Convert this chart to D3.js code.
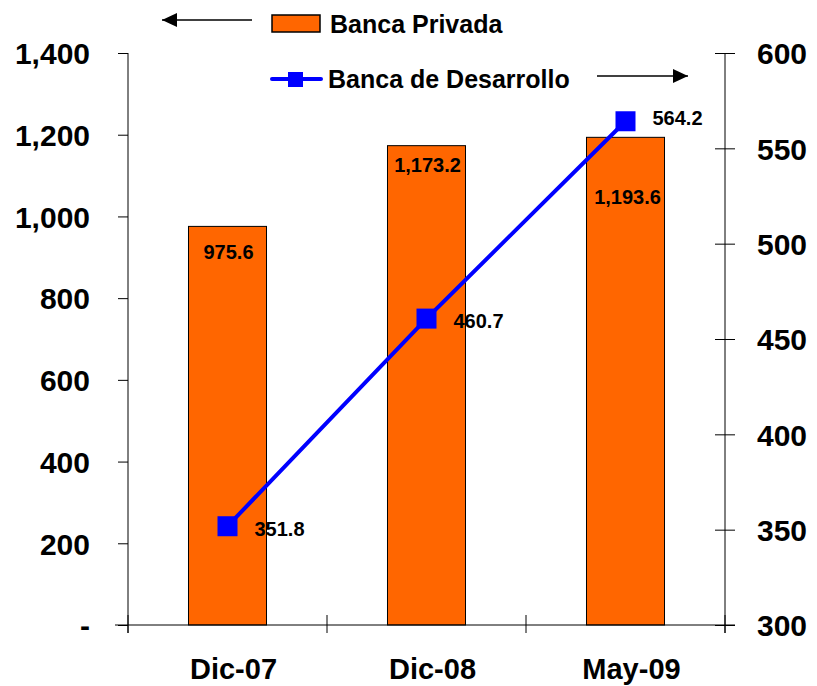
<!DOCTYPE html>
<html>
<head>
<meta charset="utf-8">
<script src="https://cdn.jsdelivr.net/npm/d3@7"></script>
<style>
  html, body { margin: 0; padding: 0; background: #fff; }
  svg { display: block; font-family: "Liberation Sans", Arial, sans-serif; font-weight: bold; }
</style>
</head>
<body>
<svg id="chart" width="817" height="686"></svg>
<script>
// Data
const categories = ["Dic-07", "Dic-08", "May-09"];
const privada = [975.6, 1173.2, 1193.6];          // left axis (bars)
const desarrollo = [351.8, 460.7, 564.2];         // right axis (line)
const leftTicks = [0, 200, 400, 600, 800, 1000, 1200, 1400];
const rightTicks = [300, 350, 400, 450, 500, 550, 600];
const seriesNames = ["Banca Privada", "Banca de Desarrollo"];

const svg = d3.select("#chart");
const plotLeft = 128, plotRight = 725, plotTop = 53, plotBottom = 625;

const x = d3.scaleBand().domain(categories).range([plotLeft, plotRight])
  .paddingInner(0.608).paddingOuter(0.304);
const step = x.step();
const yL = d3.scaleLinear().domain([0, 1400]).range([plotBottom, plotTop]);
const yR = d3.scaleLinear().domain([300, 600]).range([plotBottom, plotTop]);

const fmtL = v => v === 0 ? "-" : d3.format(",")(v);
const fmtBar = d3.format(",.1f");

// Bars
svg.append("g").selectAll("rect").data(privada).join("rect")
  .attr("x", (d, i) => x(categories[i]))
  .attr("y", d => yL(d))
  .attr("width", x.bandwidth())
  .attr("height", d => plotBottom - yL(d))
  .attr("fill", "#FF6600")
  .attr("stroke", "#000")
  .attr("stroke-width", 1);

// Left axis
const gL = svg.append("g").attr("transform", `translate(${plotLeft},0)`)
  .call(d3.axisLeft(yL).tickValues(leftTicks).tickFormat(fmtL).tickSize(10).tickPadding(28));
gL.attr("font-family", null).attr("font-size", 30);
gL.select(".domain").attr("d", `M0,${plotTop}V${plotBottom + 8}`);
gL.selectAll("text").attr("fill", "#000").attr("dy", "0.36em");
gL.selectAll("line").attr("stroke", "#000");

// Right axis
const gR = svg.append("g").attr("transform", `translate(${plotRight},0)`)
  .call(d3.axisRight(yR).tickValues(rightTicks).tickSize(10).tickPadding(22));
gR.attr("font-family", null).attr("font-size", 30);
gR.select(".domain").attr("d", `M0,${plotTop}V${plotBottom + 8}`);
gR.selectAll(".tick line").attr("x1", -10);
gR.selectAll("text").attr("fill", "#000").attr("dy", "0.36em");
gR.selectAll("line").attr("stroke", "#000");

// Category axis
const gX = svg.append("g").attr("transform", `translate(0,${plotBottom})`);
gX.append("line").attr("x1", plotLeft - 13).attr("x2", plotRight + 10).attr("stroke", "#000");
gX.selectAll(".sep").data(d3.range(categories.length + 1)).join("line")
  .attr("x1", i => plotLeft + i * step).attr("x2", i => plotLeft + i * step)
  .attr("y1", -10).attr("y2", 8).attr("stroke", "#000");
gX.selectAll("text").data(categories).join("text")
  .attr("x", d => x(d) + x.bandwidth() / 2 + 6)
  .attr("y", 54)
  .attr("text-anchor", "middle")
  .attr("font-size", 29)
  .text(d => d);

// Line series
const cx = (d, i) => x(categories[i]) + x.bandwidth() / 2;
svg.append("path").datum(desarrollo)
  .attr("fill", "none").attr("stroke", "#0000FF").attr("stroke-width", 4)
  .attr("d", d3.line().x(cx).y(d => yR(d)));
svg.append("g").selectAll("rect").data(desarrollo).join("rect")
  .attr("x", (d, i) => cx(d, i) - 10).attr("y", d => yR(d) - 10)
  .attr("width", 20).attr("height", 20).attr("fill", "#0000FF");

// Bar value labels
const barLabelDy = [33, 26, 67];
svg.append("g").selectAll("text").data(privada).join("text")
  .attr("x", (d, i) => cx(d, i) + (i === 2 ? 2 : 1))
  .attr("y", (d, i) => yL(d) + barLabelDy[i])
  .attr("text-anchor", "middle").attr("font-size", 20)
  .text(d => fmtBar(d));

// Line value labels
const lineLabelDy = [10, 9, 4];
svg.append("g").selectAll("text").data(desarrollo).join("text")
  .attr("x", (d, i) => cx(d, i) + 27)
  .attr("y", (d, i) => yR(d) + lineLabelDy[i])
  .attr("font-size", 20)
  .text(d => d3.format(".1f")(d));

// Legend
const arrow = (x1, x2, y) => {
  svg.append("line").attr("x1", x1).attr("x2", x2).attr("y1", y).attr("y2", y)
    .attr("stroke", "#000").attr("stroke-width", 1.5);
  const dir = Math.sign(x2 - x1);
  svg.append("path")
    .attr("d", `M${x2},${y}L${x2 - dir * 15},${y - 7}L${x2 - dir * 15},${y + 7}Z`)
    .attr("fill", "#000");
};
arrow(252, 162, 20);
svg.append("rect").attr("x", 272).attr("y", 15).attr("width", 48).attr("height", 17)
  .attr("fill", "#FF6600").attr("stroke", "#000").attr("stroke-width", 1.5);
svg.append("text").attr("x", 330).attr("y", 33).attr("font-size", 25).text(seriesNames[0]);

svg.append("line").attr("x1", 272).attr("x2", 321).attr("y1", 79).attr("y2", 79)
  .attr("stroke", "#0000FF").attr("stroke-width", 4).attr("stroke-linecap", "round");
svg.append("rect").attr("x", 288).attr("y", 72).attr("width", 15).attr("height", 15).attr("fill", "#0000FF");
svg.append("text").attr("x", 328).attr("y", 88).attr("font-size", 25).text(seriesNames[1]);
arrow(597, 688, 76);
</script>
</body>
</html>
